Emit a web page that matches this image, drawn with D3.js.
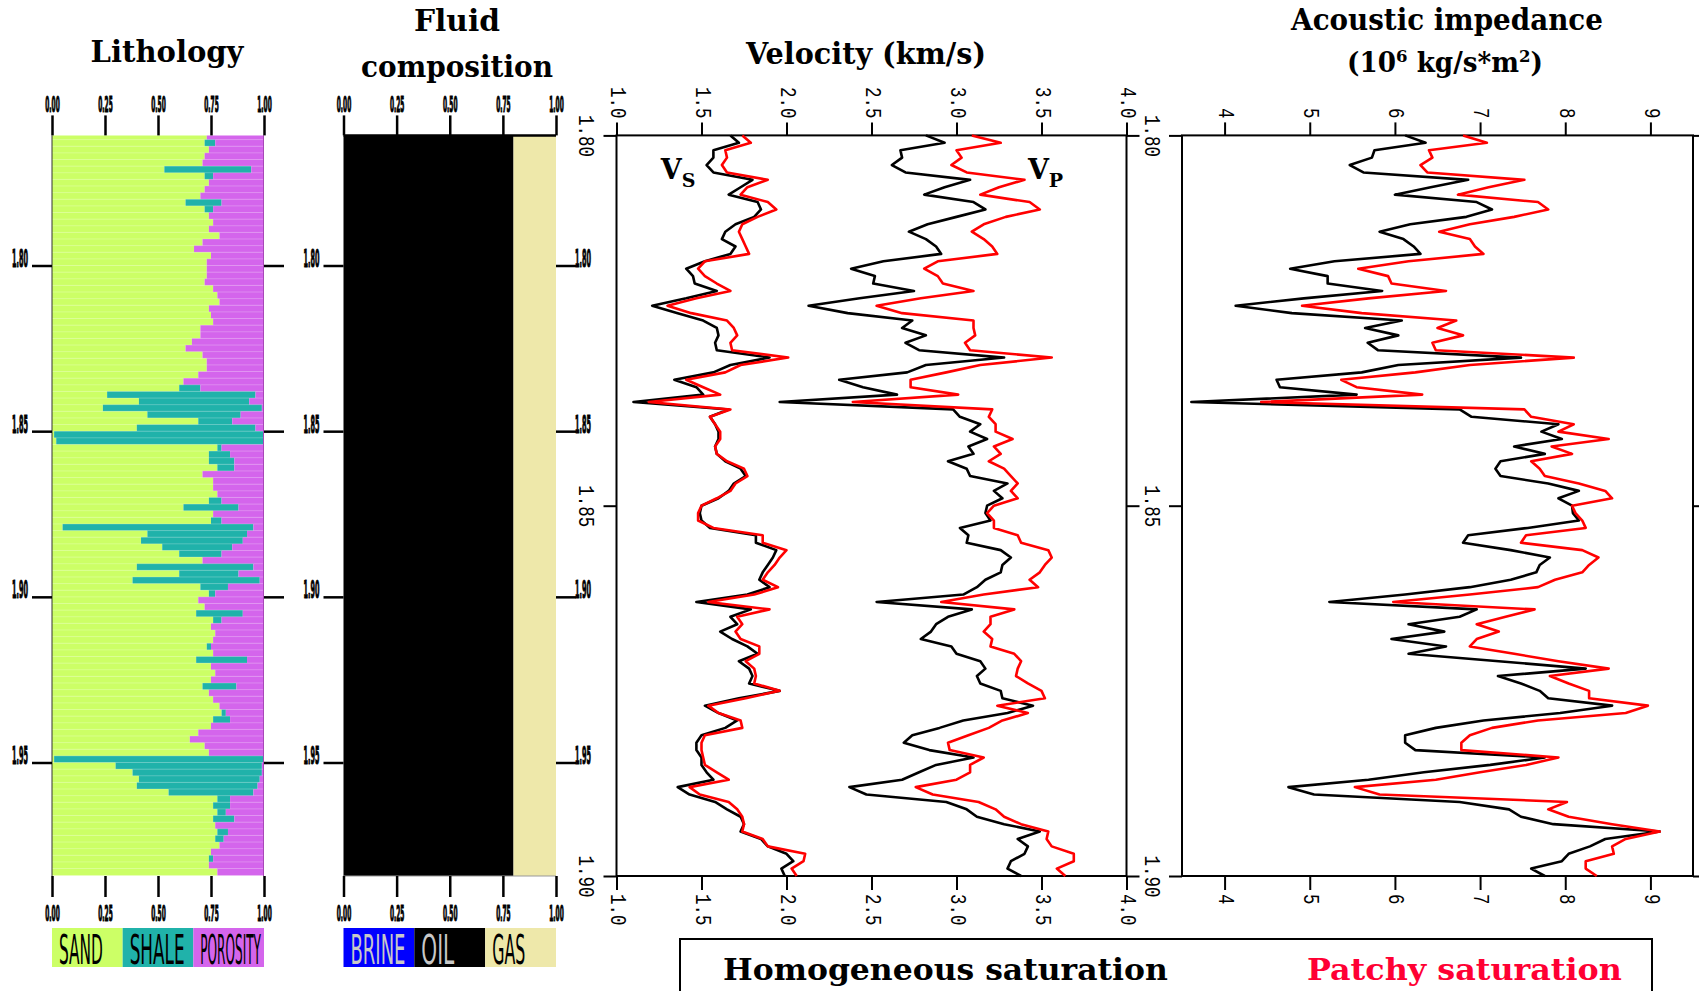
<!DOCTYPE html>
<html>
<head>
<meta charset="utf-8">
<script src="https://cdnjs.cloudflare.com/ajax/libs/d3/7.8.5/d3.min.js"></script>
<style>
  body { margin: 0; background: #fff; }
  svg { display: block; }
</style>
</head>
<body>
<script>
let width = 1699
let height = 991

// depth samples for the velocity and impedance tracks
const depth = [
  1.800,1.801,1.802,1.803,1.804,1.805,1.806,1.807,1.808,1.809,
  1.810,1.811,1.812,1.813,1.814,1.815,1.816,1.817,1.818,1.819,
  1.820,1.821,1.822,1.823,1.824,1.825,1.826,1.827,1.828,1.829,
  1.830,1.831,1.832,1.833,1.834,1.835,1.836,1.837,1.838,1.839,
  1.840,1.841,1.842,1.843,1.844,1.845,1.846,1.847,1.848,1.849,
  1.850,1.851,1.852,1.853,1.854,1.855,1.856,1.857,1.858,1.859,
  1.860,1.861,1.862,1.863,1.864,1.865,1.866,1.867,1.868,1.869,
  1.870,1.871,1.872,1.873,1.874,1.875,1.876,1.877,1.878,1.879,
  1.880,1.881,1.882,1.883,1.884,1.885,1.886,1.887,1.888,1.889,
  1.890,1.891,1.892,1.893,1.894,1.895,1.896,1.897,1.898,1.899,
  1.900]

const vsHomogeneous = [
  1.67,1.72,1.57,1.57,1.53,1.57,1.80,1.73,1.66,1.83,
  1.85,1.81,1.70,1.64,1.62,1.70,1.67,1.52,1.41,1.45,
  1.46,1.59,1.41,1.21,1.36,1.51,1.59,1.60,1.58,1.59,
  1.90,1.67,1.57,1.34,1.47,1.51,1.10,1.66,1.55,1.58,
  1.60,1.60,1.58,1.59,1.64,1.73,1.76,1.69,1.66,1.60,
  1.50,1.49,1.50,1.55,1.82,1.82,1.94,1.92,1.89,1.86,
  1.84,1.90,1.77,1.47,1.79,1.67,1.71,1.61,1.68,1.77,
  1.83,1.72,1.78,1.80,1.78,1.96,1.72,1.52,1.60,1.71,
  1.64,1.50,1.47,1.47,1.50,1.50,1.53,1.57,1.36,1.43,
  1.58,1.65,1.73,1.75,1.73,1.85,1.89,2.00,2.04,1.97,
  1.99]

const vsPatchy = [
  1.74,1.79,1.64,1.65,1.62,1.65,1.89,1.77,1.73,1.89,
  1.94,1.83,1.74,1.72,1.74,1.76,1.78,1.52,1.48,1.52,
  1.59,1.67,1.47,1.30,1.44,1.65,1.69,1.71,1.67,1.68,
  2.01,1.73,1.64,1.41,1.51,1.61,1.19,1.67,1.55,1.58,
  1.61,1.61,1.58,1.59,1.65,1.75,1.77,1.70,1.67,1.59,
  1.50,1.48,1.48,1.57,1.86,1.86,2.00,1.96,1.93,1.89,
  1.86,1.95,1.81,1.54,1.90,1.71,1.74,1.70,1.73,1.84,
  1.84,1.76,1.81,1.82,1.81,1.96,1.76,1.54,1.60,1.73,
  1.74,1.52,1.50,1.50,1.51,1.52,1.59,1.66,1.43,1.49,
  1.66,1.71,1.74,1.75,1.74,1.86,1.89,2.11,2.10,2.03,
  2.06]

const vpHomogeneous = [
  2.82,2.93,2.67,2.68,2.62,2.70,3.08,2.93,2.81,3.10,
  3.17,3.00,2.83,2.72,2.82,2.88,2.91,2.57,2.38,2.52,
  2.51,2.75,2.43,2.13,2.36,2.74,2.68,2.82,2.70,2.78,
  3.28,2.82,2.71,2.31,2.45,2.65,1.96,2.98,3.02,3.14,
  3.08,3.18,3.07,3.10,2.95,3.06,3.08,3.30,3.22,3.27,
  3.18,3.17,3.20,3.02,3.07,3.06,3.26,3.32,3.27,3.26,
  3.17,3.12,3.04,2.53,3.09,2.95,2.88,2.85,2.79,2.97,
  3.00,3.14,3.17,3.12,3.14,3.26,3.27,3.45,3.30,3.04,
  2.90,2.74,2.69,2.84,3.10,2.88,2.78,2.68,2.37,2.47,
  2.94,3.06,3.12,3.28,3.49,3.36,3.42,3.40,3.32,3.30,
  3.38]

const vpPatchy = [
  3.09,3.26,3.00,3.03,2.97,3.06,3.40,3.25,3.14,3.43,
  3.49,3.29,3.16,3.09,3.16,3.21,3.24,2.89,2.81,2.89,
  2.92,3.10,2.79,2.53,2.68,3.10,3.10,3.11,3.05,3.08,
  3.56,3.14,2.94,2.73,2.73,3.01,2.39,3.21,3.19,3.23,
  3.23,3.33,3.22,3.26,3.19,3.28,3.32,3.36,3.32,3.36,
  3.22,3.18,3.22,3.22,3.36,3.38,3.54,3.56,3.52,3.49,
  3.43,3.48,3.16,2.91,3.34,3.20,3.20,3.16,3.21,3.20,
  3.34,3.38,3.36,3.35,3.42,3.50,3.52,3.24,3.42,3.27,
  3.19,3.07,2.95,2.96,3.16,3.08,3.08,3.00,2.76,2.86,
  3.13,3.23,3.28,3.38,3.54,3.53,3.56,3.69,3.69,3.59,
  3.64]

const aiHomogeneous = [
  6.12,6.36,5.76,5.73,5.47,5.63,6.86,6.42,6.00,6.96,
  7.14,6.84,6.18,5.82,6.10,6.22,6.30,5.29,4.77,5.21,
  5.21,5.85,4.93,4.13,4.79,6.08,5.65,6.04,5.68,5.80,
  7.48,6.04,5.61,4.61,4.65,5.55,3.61,6.76,6.90,7.92,
  7.72,7.96,7.40,7.76,7.24,7.18,7.24,7.80,8.16,7.92,
  8.08,8.09,8.16,7.56,6.86,6.80,7.36,7.82,7.70,7.66,
  7.36,6.88,6.12,5.23,6.96,6.76,6.16,6.58,5.96,6.60,
  6.16,7.22,8.24,7.21,7.48,7.70,7.80,8.55,7.94,7.04,
  6.48,6.12,6.12,6.24,7.76,7.12,6.34,5.69,4.75,5.05,
  6.76,7.34,7.48,7.86,9.11,8.47,8.29,8.04,7.96,7.60,
  7.76]

const aiPatchy = [
  6.80,7.08,6.40,6.44,6.30,6.38,7.52,7.10,6.74,7.68,
  7.80,7.40,6.88,6.52,6.88,6.94,7.04,6.16,5.57,5.92,
  5.96,6.60,5.69,4.91,5.61,6.72,6.50,6.80,6.44,6.48,
  8.10,6.88,6.24,5.37,5.55,6.32,4.43,7.52,7.60,8.10,
  7.92,8.51,7.84,8.08,7.60,7.70,7.76,8.16,8.47,8.55,
  8.08,8.12,8.20,8.24,7.54,7.48,8.20,8.39,8.28,8.20,
  7.88,7.68,6.88,5.98,7.64,7.30,6.96,7.22,6.96,6.88,
  7.40,7.92,8.51,7.82,8.04,8.28,8.28,8.97,8.71,7.68,
  7.14,6.88,6.78,6.78,7.92,7.54,7.00,6.48,5.53,5.82,
  8.02,7.80,8.04,8.55,9.11,8.71,8.55,8.57,8.24,8.24,
  8.37]

// lithology log, its own depth samples
const lithoDepth = [
  1.761,1.763,1.765,1.767,1.769,1.771,1.773,1.775,1.777,1.779,
  1.781,1.783,1.785,1.787,1.789,1.791,1.793,1.795,1.797,1.799,
  1.801,1.803,1.805,1.807,1.809,1.811,1.813,1.815,1.817,1.819,
  1.821,1.823,1.825,1.827,1.829,1.831,1.833,1.835,1.837,1.839,
  1.841,1.843,1.845,1.847,1.849,1.851,1.853,1.855,1.857,1.859,
  1.861,1.863,1.865,1.867,1.869,1.871,1.873,1.875,1.877,1.879,
  1.881,1.883,1.885,1.887,1.889,1.891,1.893,1.895,1.897,1.899,
  1.901,1.903,1.905,1.907,1.909,1.911,1.913,1.915,1.917,1.919,
  1.921,1.923,1.925,1.927,1.929,1.931,1.933,1.935,1.937,1.939,
  1.941,1.943,1.945,1.947,1.949,1.951,1.953,1.955,1.957,1.959,
  1.961,1.963,1.965,1.967,1.969,1.971,1.973,1.975,1.977,1.979,
  1.981,1.983]

const sand = [
  .73,.72,.74,.72,.71,.53,.72,.74,.72,.70,
  .63,.72,.74,.76,.74,.79,.71,.67,.75,.73,
  .73,.73,.72,.76,.78,.79,.74,.75,.76,.70,
  .70,.66,.63,.71,.73,.73,.69,.62,.60,.26,
  .41,.24,.45,.69,.40,.01,.02,.78,.74,.74,
  .78,.71,.76,.76,.78,.74,.62,.76,.75,.05,
  .45,.42,.52,.60,.71,.40,.60,.38,.70,.74,
  .69,.72,.68,.76,.75,.77,.76,.73,.76,.68,
  .75,.77,.75,.71,.74,.76,.79,.80,.76,.75,
  .69,.65,.72,.74,.01,.30,.38,.41,.40,.55,
  .78,.76,.78,.76,.77,.78,.77,.79,.75,.74,
  .74,.78]

const shale = [
  0,.05,0,0,0,.41,.04,0,0,0,
  .17,.04,0,0,0,0,0,0,0,0,
  0,0,0,0,0,0,0,0,0,0,
  0,0,0,0,0,0,0,0,.10,.70,
  .52,.75,.44,.16,.56,.99,.98,.02,.10,.12,
  .08,0,0,0,0,.06,.26,0,.05,.90,
  .47,.48,.33,.20,0,.55,.28,.60,.13,.03,
  0,0,.22,.04,0,0,0,.02,0,.24,
  0,0,0,.16,0,0,0,.02,.08,0,
  0,0,0,0,.99,.69,.61,.57,.57,.40,
  .06,.08,.04,.10,0,.05,.04,0,0,.02,
  0,0]

const lithoNames = ["SAND", "SHALE", "POROSITY"]
const lithoColors = ["#ccff66", "#20b2aa", "#d465ec"]
const fluidNames = ["BRINE", "OIL", "GAS"]
const fluidFrac = [0, 0.8, 0.2]
const fluidColors = ["#0000ff", "#000000", "#eee8aa"]
const fluidText = ["#c8c8c8", "#c8c8c8", "#000000"]

const velTicks = [1.0, 1.5, 2.0, 2.5, 3.0, 3.5, 4.0]
const aiTicks = [4, 5, 6, 7, 8, 9]
const depthTicks = [1.80, 1.85, 1.90]
const lithoDepthTicks = [1.80, 1.85, 1.90, 1.95]
const fracTicks = [0, 0.25, 0.5, 0.75, 1]

const trackTop = 135.4
const trackBottom = 876

const svg = d3.select("body").append("svg")
    .attr("width", width)
    .attr("height", height)

const yDepth = d3.scaleLinear().domain([1.80, 1.90]).range([trackTop, trackBottom])
const yLitho = d3.scaleLinear().domain([1.80, 1.95]).range([265.5, 762.5])
const xVel = d3.scaleLinear().domain([1.0, 4.0]).range([616.5, 1126.5])
const xAI = d3.scaleLinear().domain([3.5, 9.5]).range([1182, 1693])
const xLith = d3.scaleLinear().domain([0, 1]).range([52, 264])
const xFluid = d3.scaleLinear().domain([0, 1]).range([343.5, 556])

const serif = "'DejaVu Serif', 'Liberation Serif', serif"
const mono = "'Liberation Mono', 'DejaVu Sans Mono', monospace"
const sans = "'DejaVu Sans', 'Liberation Sans', sans-serif"

// squeeze text horizontally to a given width (the plot uses very narrow lettering)
let squeeze = (sel, len, pre) => sel.each(function(d, i) {
    const t = d3.select(this)
    const w = this.getComputedTextLength() || 1
    const target = typeof len === "function" ? len(this.textContent) : len
    const x = +t.attr("x") || 0
    const y = +t.attr("y") || 0
    t.attr("x", 0).attr("y", 0)
        .attr("transform", `${pre || ""} translate(${x},${y}) scale(${target / w},1)`)
})

svg.append("clipPath").attr("id", "lithclip")
    .append("rect")
    .attr("x", 0).attr("y", trackTop).attr("width", 600).attr("height", trackBottom - trackTop)

// ---------- titles ----------
let title = (txt, x, y, len, color) =>
    svg.append("text")
        .attr("x", x).attr("y", y)
        .attr("text-anchor", "middle")
        .style("font-family", serif).style("font-weight", "bold").style("font-size", "29px")
        .style("fill", color || "#000")
        .text(txt)
        .call(squeeze, len)

title("Lithology", 167, 62, 153)
title("Fluid", 457, 31, 86)
title("composition", 457, 77, 192)
title("Velocity (km/s)", 866, 64, 240)
title("Acoustic impedance", 1447, 30, 312)

const unit = svg.append("text")
    .attr("x", 1445).attr("y", 72)
    .attr("text-anchor", "middle")
    .style("font-family", serif).style("font-weight", "bold").style("font-size", "27px")
unit.append("tspan").text("(10")
unit.append("tspan").attr("baseline-shift", "super").style("font-size", "17px").text("6")
unit.append("tspan").text(" kg/s*m")
unit.append("tspan").attr("baseline-shift", "super").style("font-size", "17px").text("2")
unit.append("tspan").text(")")
unit.call(squeeze, 196)

// ---------- lithology track ----------
const lith = svg.append("g").attr("clip-path", "url(#lithclip)")
const lithRows = lithoDepth.map((d, i) => ({d: d, parts: [sand[i], shale[i], 1 - sand[i] - shale[i]]}))

lithRows.forEach(row => {
    let acc = 0
    row.parts.forEach((p, j) => {
        if (p > 0) {
            lith.append("rect")
                .attr("x", xLith(acc))
                .attr("y", yLitho(row.d - 0.001))
                .attr("width", xLith(acc + p) - xLith(acc))
                .attr("height", yLitho(row.d + 0.001) - yLitho(row.d - 0.001) + 0.3)
                .attr("fill", lithoColors[j])
        }
        acc += p
    })
})
lith.selectAll(".stripe").data(lithoDepth).join("line")
    .attr("class", "stripe")
    .attr("x1", xLith(0)).attr("x2", xLith(1))
    .attr("y1", d => yLitho(d - 0.001)).attr("y2", d => yLitho(d - 0.001))
    .attr("stroke", "#fff").attr("stroke-opacity", 0.3).attr("stroke-width", 0.8)
svg.append("line")
    .attr("x1", xLith(0)).attr("x2", xLith(0)).attr("y1", trackTop).attr("y2", trackBottom)
    .attr("stroke", "#333").attr("stroke-width", 1)
svg.append("line")
    .attr("x1", xLith(1) - 0.5).attr("x2", xLith(1) - 0.5).attr("y1", trackTop).attr("y2", trackBottom)
    .attr("stroke", "#a848b8").attr("stroke-width", 1)

// ---------- fluid track ----------
let accF = 0
fluidFrac.forEach((f, j) => {
    if (f > 0) {
        svg.append("rect")
            .attr("x", xFluid(accF)).attr("y", trackTop)
            .attr("width", xFluid(accF + f) - xFluid(accF))
            .attr("height", trackBottom - trackTop)
            .attr("fill", fluidColors[j])
    }
    accF += f
})
svg.append("line")
    .attr("x1", xFluid(0)).attr("x2", xFluid(1)).attr("y1", trackTop).attr("y2", trackTop)
    .attr("stroke", "#000").attr("stroke-width", 2.5)
svg.append("line")
    .attr("x1", xFluid(0)).attr("x2", xFluid(1)).attr("y1", trackBottom).attr("y2", trackBottom)
    .attr("stroke", "#999").attr("stroke-width", 1)

// fraction axes, depth ticks and legends for the two left tracks
let smallFont = (sel, size) => sel
    .style("font-family", sans).style("font-weight", "bold").style("font-size", size + "px")
    .style("fill", "#000")
    .attr("stroke", "#000").attr("stroke-width", 0.9)
    .attr("vector-effect", "non-scaling-stroke")

let fractionTrack = (x, names, colors, textColors, leftLabels, rightLabels) => {
    const fmt = d3.format(".2f")
    const axT = svg.append("g").attr("transform", `translate(0,${trackTop})`)
        .call(d3.axisTop(x).tickValues(fracTicks).tickSize(20).tickFormat(fmt))
    const axB = svg.append("g").attr("transform", `translate(0,${trackBottom})`)
        .call(d3.axisBottom(x).tickValues(fracTicks).tickSize(21).tickFormat(fmt))
    ;[axT, axB].forEach(ax => {
        ax.select(".domain").remove()
        ax.selectAll("line").attr("stroke", "#000").attr("stroke-width", 2.5)
    })
    axT.selectAll("text").attr("dy", null).attr("x", 0).attr("y", -23)
        .call(smallFont, 21).call(squeeze, 14.5)
    axB.selectAll("text").attr("dy", null).attr("x", 0).attr("y", 45)
        .call(smallFont, 21).call(squeeze, 14.5)

    const axL = svg.append("g").attr("transform", `translate(${x.range()[0]},0)`)
        .call(d3.axisLeft(yLitho).tickValues(lithoDepthTicks).tickSize(20).tickFormat(leftLabels ? d3.format(".2f") : ""))
    const axR = svg.append("g").attr("transform", `translate(${x.range()[1]},0)`)
        .call(d3.axisRight(yLitho).tickValues(lithoDepthTicks).tickSize(20).tickFormat(rightLabels ? d3.format(".2f") : ""))
    ;[axL, axR].forEach(ax => {
        ax.select(".domain").remove()
        ax.selectAll("line").attr("stroke", "#000").attr("stroke-width", 2.5)
    })
    axL.selectAll("text").attr("dy", null).attr("y", 1).attr("x", -32).attr("text-anchor", "middle")
        .call(smallFont, 25).call(squeeze, 16)
    axR.selectAll("text").attr("dy", null).attr("y", 1).attr("x", 27).attr("text-anchor", "middle")
        .call(smallFont, 25).call(squeeze, 16)

    const band = d3.scaleBand().domain(names).range(x.range())
    const leg = svg.append("g")
    leg.selectAll("rect").data(names).join("rect")
        .attr("x", d => band(d)).attr("y", 928)
        .attr("width", band.bandwidth()).attr("height", 39)
        .attr("fill", (d, i) => colors[i])
    leg.selectAll("text").data(names).join("text")
        .attr("x", d => band(d) + 7).attr("y", 964)
        .style("font-family", sans).style("font-size", "40px")
        .style("fill", (d, i) => textColors[i])
        .text(d => d)
        .call(squeeze, s => Math.min(s.length * 11, band.bandwidth() - 10))
}

fractionTrack(xLith, lithoNames, lithoColors, ["#000", "#000", "#000"], true, false)
fractionTrack(xFluid, fluidNames, fluidColors, fluidText, true, true)

// ---------- log tracks ----------
let rotLabels = (sel, pre, anchor) => sel
    .attr("x", 0).attr("y", 0).attr("dy", null)
    .attr("text-anchor", anchor)
    .attr("dominant-baseline", "central")
    .style("font-family", mono).style("font-size", "22px").style("fill", "#000")
    .call(squeeze, s => s.length * 10.5, pre)

let logTrack = (x, ticks, fmt, series) => {
    const [x0, x1] = x.range()
    const g = svg.append("g")

    const axT = g.append("g").attr("transform", `translate(0,${trackTop})`)
        .call(d3.axisTop(x).tickValues(ticks).tickSize(13).tickFormat(fmt))
    const axB = g.append("g").attr("transform", `translate(0,${trackBottom})`)
        .call(d3.axisBottom(x).tickValues(ticks).tickSize(14).tickFormat(fmt))
    const axL = g.append("g").attr("transform", `translate(${x0},0)`)
        .call(d3.axisLeft(yDepth).tickValues(depthTicks).tickSize(13).tickFormat(d3.format(".2f")))
    const axR = g.append("g").attr("transform", `translate(${x1},0)`)
        .call(d3.axisRight(yDepth).tickValues(depthTicks).tickSize(13).tickFormat(""))
    ;[axT, axB, axL, axR].forEach(ax => {
        ax.select(".domain").remove()
        ax.selectAll("line").attr("stroke", "#000").attr("stroke-width", 2)
    })
    rotLabels(axT.selectAll("text"), "translate(0,-17) rotate(90)", "end")
    rotLabels(axB.selectAll("text"), "translate(0,18) rotate(90)", "start")
    rotLabels(axL.selectAll("text"), "translate(-31,0) rotate(90)", "middle")

    g.append("rect")
        .attr("x", x0).attr("y", trackTop)
        .attr("width", x1 - x0).attr("height", trackBottom - trackTop)
        .attr("fill", "none").attr("stroke", "#000").attr("stroke-width", 2)

    series.forEach(s => {
        const line = d3.line()
            .x(v => x(v))
            .y((v, i) => yDepth(depth[i]))
        g.append("path")
            .datum(s.values)
            .attr("d", line)
            .attr("fill", "none")
            .attr("stroke", s.color)
            .attr("stroke-width", 2.6)
            .attr("stroke-linejoin", "round")
    })
    return g
}

const velTrack = logTrack(xVel, velTicks, d3.format(".1f"), [
    {values: vsHomogeneous, color: "#000"},
    {values: vpHomogeneous, color: "#000"},
    {values: vsPatchy, color: "#ff0000"},
    {values: vpPatchy, color: "#ff0000"}
])

logTrack(xAI, aiTicks, d3.format("d"), [
    {values: aiHomogeneous, color: "#000"},
    {values: aiPatchy, color: "#ff0000"}
])

// Vs / Vp labels
let waveLabel = (v, d, sub) => {
    const t = velTrack.append("text")
        .attr("x", xVel(v)).attr("y", yDepth(d))
        .style("font-family", serif).style("font-weight", "bold").style("font-size", "27px")
    t.append("tspan").text("V")
    t.append("tspan").attr("dy", 8).style("font-size", "19px").text(sub)
}
waveLabel(1.26, 1.8059, "S")
waveLabel(3.42, 1.8059, "P")

// ---------- legend ----------
svg.append("rect")
    .attr("x", 680).attr("y", 939)
    .attr("width", 972).attr("height", 80)
    .attr("fill", "#fff").attr("stroke", "#000").attr("stroke-width", 2)
svg.append("text")
    .attr("x", 723).attr("y", 980)
    .style("font-family", serif).style("font-weight", "bold").style("font-size", "30px")
    .text("Homogeneous saturation")
    .call(squeeze, 445)
svg.append("text")
    .attr("x", 1307).attr("y", 980)
    .style("font-family", serif).style("font-weight", "bold").style("font-size", "30px")
    .style("fill", "#ff0033")
    .text("Patchy saturation")
    .call(squeeze, 315)
</script>
</body>
</html>
